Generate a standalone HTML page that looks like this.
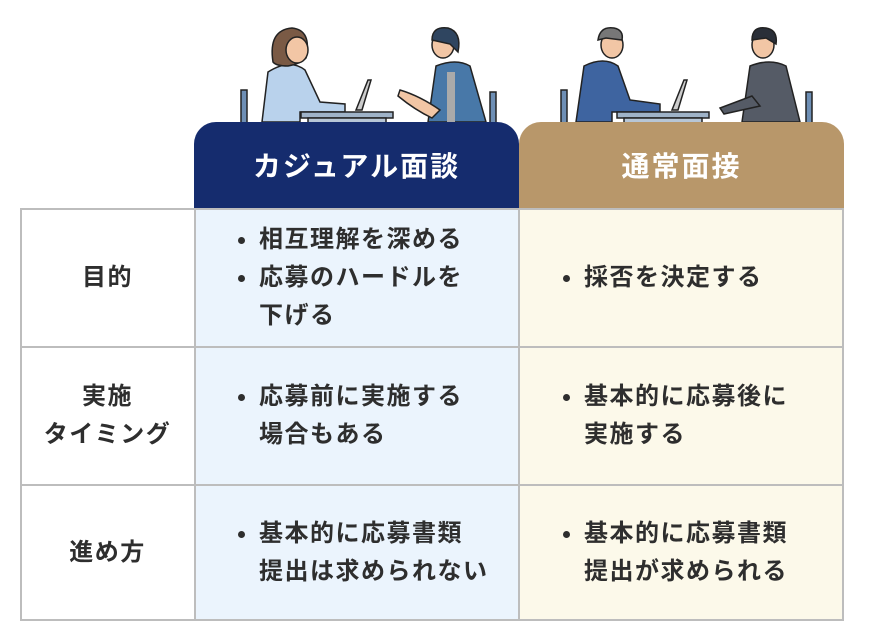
<!DOCTYPE html>
<html><head><meta charset="utf-8"><style>
body{margin:0;width:877px;height:632px;background:#fff;position:relative;overflow:hidden;font-family:"Liberation Sans","Noto Sans CJK JP",sans-serif;font-weight:bold;color:#2e2e2e}
.a{position:absolute;box-sizing:border-box}
.hd{color:#fff;font-size:28px;letter-spacing:2px;display:flex;align-items:center;justify-content:center;border-radius:22px 22px 0 0}
.c{display:flex;align-items:center;font-size:24px;letter-spacing:1.5px;line-height:38px}
.lab{justify-content:center;text-align:center}
ul{margin:0;padding:0 0 0 40px;list-style:none}
li{position:relative}
li:before{content:"";position:absolute;left:-21px;top:16px;width:7px;height:7px;border-radius:50%;background:#2e2e2e}
</style></head><body>
<svg class="a" style="left:0;top:0" width="877" height="130">
<g stroke="#222" stroke-width="1.5">
<rect x="241" y="90" width="6" height="34" fill="#6e8fb5"/>
<path d="M262 122 L268 72 Q290 58 305 70 L320 102 L345 104 L345 112 L300 112 L300 122Z" fill="#b9d2ec"/>
<path d="M273 62 Q268 30 292 28 Q312 30 306 58 Q300 64 288 66 Q276 66 273 62Z" fill="#7a5a45"/>
<ellipse cx="297" cy="50" rx="11" ry="13" fill="#f2c6a5"/>
<rect x="301" y="112" width="92" height="6" fill="#9fb3c8"/>
<rect x="308" y="118" width="78" height="6" fill="#b7c6d6"/>
<path d="M356 110 L368 80 L371 80 L362 110Z" fill="#ccc"/>
<path d="M428 122 L436 66 Q456 58 470 66 L486 122Z" fill="#4878a8"/>
<rect x="447" y="72" width="8" height="50" fill="#aaa" stroke="none"/>
<ellipse cx="443" cy="45" rx="11" ry="13" fill="#f2c6a5"/>
<path d="M432 40 Q432 26 448 28 Q462 32 458 52 L450 44Z" fill="#2f4560"/>
<path d="M400 90 Q420 96 440 110 L432 118 Q415 110 398 96Z" fill="#f2c6a5"/>
<rect x="490" y="92" width="6" height="32" fill="#6e8fb5"/>
<rect x="561" y="90" width="6" height="34" fill="#6e8fb5"/>
<path d="M576 122 L584 66 Q604 56 618 66 L630 100 L660 104 L660 112 L612 112 L612 122Z" fill="#3e64a0"/>
<ellipse cx="612" cy="45" rx="11" ry="13" fill="#f2c6a5"/>
<path d="M598 40 Q600 26 614 28 Q624 30 622 40 L606 38Z" fill="#777"/>
<rect x="617" y="112" width="92" height="6" fill="#9fb3c8"/>
<rect x="624" y="118" width="78" height="6" fill="#b7c6d6"/>
<path d="M672 110 L684 80 L687 80 L678 110Z" fill="#ccc"/>
<path d="M742 122 L750 66 Q770 58 786 66 L800 122Z" fill="#555b66"/>
<path d="M752 96 L720 108 L724 114 L760 106Z" fill="#555b66"/>
<ellipse cx="763" cy="45" rx="11" ry="13" fill="#f2c6a5"/>
<path d="M752 40 Q752 26 766 28 Q778 30 776 44 L766 38Z" fill="#2a2f38"/>
<rect x="806" y="92" width="6" height="32" fill="#6e8fb5"/>
</g></svg>
<div class="a hd" style="left:194px;top:122px;width:325px;height:86px;background:#152c6e">カジュアル面談</div>
<div class="a hd" style="left:519px;top:122px;width:325px;height:86px;background:#b8976a">通常面接</div>
<div class="a" style="left:195px;top:208px;width:324px;height:412px;background:#ebf4fd"></div>
<div class="a" style="left:519px;top:208px;width:324px;height:412px;background:#fcf9ea"></div>
<div class="a" style="left:20px;top:208px;width:824px;height:413px;border:2px solid #bdbdbd"></div>
<div class="a" style="left:194px;top:208px;width:2px;height:413px;background:#bdbdbd"></div>
<div class="a" style="left:518px;top:208px;width:2px;height:413px;background:#bdbdbd"></div>
<div class="a" style="left:20px;top:346px;width:824px;height:2px;background:#bdbdbd"></div>
<div class="a" style="left:20px;top:484px;width:824px;height:2px;background:#bdbdbd"></div>

<div class="a c lab" style="left:20px;top:208px;width:175px;height:139px">目的</div>
<div class="a c lab" style="left:20px;top:347px;width:175px;height:138px">実施<br>タイミング</div>
<div class="a c lab" style="left:20px;top:485px;width:175px;height:136px">進め方</div>

<div class="a c" style="left:219px;top:208px;width:300px;height:139px"><ul><li>相互理解を深める</li><li>応募のハードルを<br>下げる</li></ul></div>
<div class="a c" style="left:219px;top:347px;width:300px;height:138px"><ul><li>応募前に実施する<br>場合もある</li></ul></div>
<div class="a c" style="left:219px;top:485px;width:300px;height:136px"><ul><li>基本的に応募書類<br>提出は求められない</li></ul></div>

<div class="a c" style="left:544px;top:208px;width:300px;height:139px"><ul><li>採否を決定する</li></ul></div>
<div class="a c" style="left:544px;top:347px;width:300px;height:138px"><ul><li>基本的に応募後に<br>実施する</li></ul></div>
<div class="a c" style="left:544px;top:485px;width:300px;height:136px"><ul><li>基本的に応募書類<br>提出が求められる</li></ul></div>
</body></html>
